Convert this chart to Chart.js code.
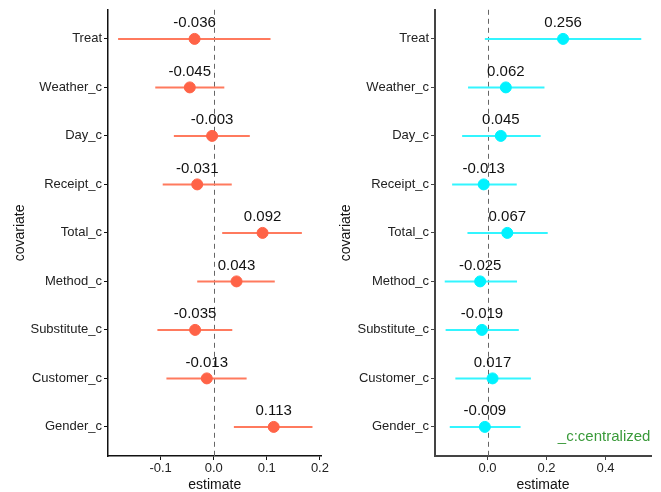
<!DOCTYPE html>
<html>
<head>
<meta charset="utf-8">
<script src="https://cdn.jsdelivr.net/npm/chart.js@4/dist/chart.umd.min.js"></script>
<style>
    html, body { margin: 0; padding: 0; background: #fff; }
    #wrap { position: relative; width: 661px; height: 492px; }
    #left { position: absolute; left: 0; top: 0; }
    #right { position: absolute; left: 330px; top: 0; }
</style>
</head>
<body>
<div id="wrap">
    <canvas id="left" width="330" height="492"></canvas>
    <canvas id="right" width="331" height="492"></canvas>
</div>
<script>
// covariates, top to bottom
const covariates = ['Treat', 'Weather_c', 'Day_c', 'Receipt_c', 'Total_c', 'Method_c', 'Substitute_c', 'Customer_c', 'Gender_c'];

// left panel
const leftEstimate = [-0.036, -0.045, -0.003, -0.031, 0.092, 0.043, -0.035, -0.013, 0.113];
const leftLower = [-0.180, -0.110, -0.075, -0.096, 0.016, -0.031, -0.106, -0.089, 0.038];
const leftUpper = [0.107, 0.020, 0.068, 0.034, 0.166, 0.115, 0.035, 0.062, 0.186];
const leftTicks = [-0.1, 0.0, 0.1, 0.2];

// right panel
const rightEstimate = [0.256, 0.062, 0.045, -0.013, 0.067, -0.025, -0.019, 0.017, -0.009];
const rightLower = [-0.009, -0.066, -0.086, -0.120, -0.068, -0.145, -0.142, -0.109, -0.128];
const rightUpper = [0.521, 0.193, 0.180, 0.099, 0.204, 0.100, 0.106, 0.147, 0.112];
const rightTicks = [0.0, 0.2, 0.4];

const noteText = '_c:centralized';
const noteAt = {x: 0.552, y: 8.2};

const FONT = "'Liberation Sans', Arial, Helvetica, sans-serif";

// dashed zero line, CI segments and value labels
const forestPlugin = {
    id: 'forest',
    beforeDatasetsDraw(chart) {
        const ctx = chart.ctx;
        const xs = chart.scales.x, ys = chart.scales.y;
        const o = chart.options.plugins.forest;
        const area = chart.chartArea;

        ctx.save();
        ctx.strokeStyle = '#666';
        ctx.lineWidth = 1;
        ctx.setLineDash([5, 4]);
        const x0 = Math.round(xs.getPixelForValue(0)) + 0.5;
        ctx.beginPath();
        ctx.moveTo(x0, area.top);
        ctx.lineTo(x0, area.bottom);
        ctx.stroke();
        ctx.restore();

        ctx.save();
        ctx.strokeStyle = o.lineColor;
        ctx.lineWidth = 2;
        o.lower.forEach((lo, i) => {
            const y = ys.getPixelForValue(i);
            ctx.beginPath();
            ctx.moveTo(xs.getPixelForValue(lo), y);
            ctx.lineTo(xs.getPixelForValue(o.upper[i]), y);
            ctx.stroke();
        });
        ctx.restore();
    },
    afterDatasetsDraw(chart) {
        const ctx = chart.ctx;
        const xs = chart.scales.x, ys = chart.scales.y;
        const o = chart.options.plugins.forest;
        ctx.save();
        ctx.fillStyle = '#111';
        ctx.font = '15px ' + FONT;
        ctx.textAlign = 'center';
        ctx.textBaseline = 'middle';
        o.estimate.forEach((v, i) => {
            ctx.fillText(v.toFixed(3), xs.getPixelForValue(v), ys.getPixelForValue(i) - 16);
        });
        if (o.note) {
            ctx.fillStyle = '#3a9a3a';
            ctx.textAlign = 'right';
            ctx.fillText(o.note.text, xs.getPixelForValue(o.note.x), ys.getPixelForValue(o.note.y));
        }
        ctx.restore();
    }
};

function makeChart(id, est, lower, upper, ticks, xmin, xmax, color, lineColor, yWidth, padRight, axisColor, axisWidth, titlePad, note) {
    return new Chart(document.getElementById(id), {
        type: 'scatter',
        data: {
            datasets: [{
                data: est.map((v, i) => ({x: v, y: i})),
                backgroundColor: color,
                borderColor: color,
                pointRadius: 5.5,
                pointHoverRadius: 5.5
            }]
        },
        options: {
            responsive: false,
            animation: false,
            layout: { padding: { top: 6, right: padRight, left: 0, bottom: 0 } },
            plugins: {
                legend: { display: false },
                tooltip: { enabled: false },
                forest: { estimate: est, lower: lower, upper: upper, lineColor: lineColor, note: note }
            },
            scales: {
                x: {
                    type: 'linear',
                    min: xmin,
                    max: xmax,
                    afterBuildTicks: s => { s.ticks = ticks.map(v => ({value: v})); },
                    afterFit: s => { s.height = 36; },
                    border: { display: true, color: axisColor, width: axisWidth },
                    grid: { drawOnChartArea: false, drawTicks: true, tickLength: 4, tickColor: axisColor },
                    ticks: {
                        padding: 1,
                        color: '#222',
                        font: { family: FONT, size: 13 },
                        callback: v => v.toFixed(1)
                    },
                    title: { display: true, text: 'estimate', color: '#111', font: { family: FONT, size: 14, lineHeight: 1 }, padding: 0 }
                },
                y: {
                    type: 'linear',
                    reverse: true,
                    min: -0.6,
                    max: 8.6,
                    afterBuildTicks: s => { s.ticks = covariates.map((c, i) => ({value: i})); },
                    afterFit: s => { s.width = yWidth; },
                    border: { display: true, color: axisColor, width: axisWidth },
                    grid: { drawOnChartArea: false, drawTicks: true, tickLength: 4, tickColor: axisColor },
                    ticks: {
                        padding: 2,
                        color: '#222',
                        font: { family: FONT, size: 13 },
                        callback: v => covariates[v]
                    },
                    title: { display: true, text: 'covariate', color: '#111', font: { family: FONT, size: 14 }, padding: { top: titlePad, bottom: 0 } }
                }
            }
        },
        plugins: [forestPlugin]
    });
}

makeChart('left', leftEstimate, leftLower, leftUpper, leftTicks, -0.199, 0.203,
    '#FF6347', '#FF7A5E', 108, 6, '#111', 1.5, 12, null);
makeChart('right', rightEstimate, rightLower, rightUpper, rightTicks, -0.178, 0.554,
    '#00F2FF', '#33F5FF', 105, 10, '#444', 2, 8, {text: noteText, x: noteAt.x, y: noteAt.y});
</script>
</body>
</html>
